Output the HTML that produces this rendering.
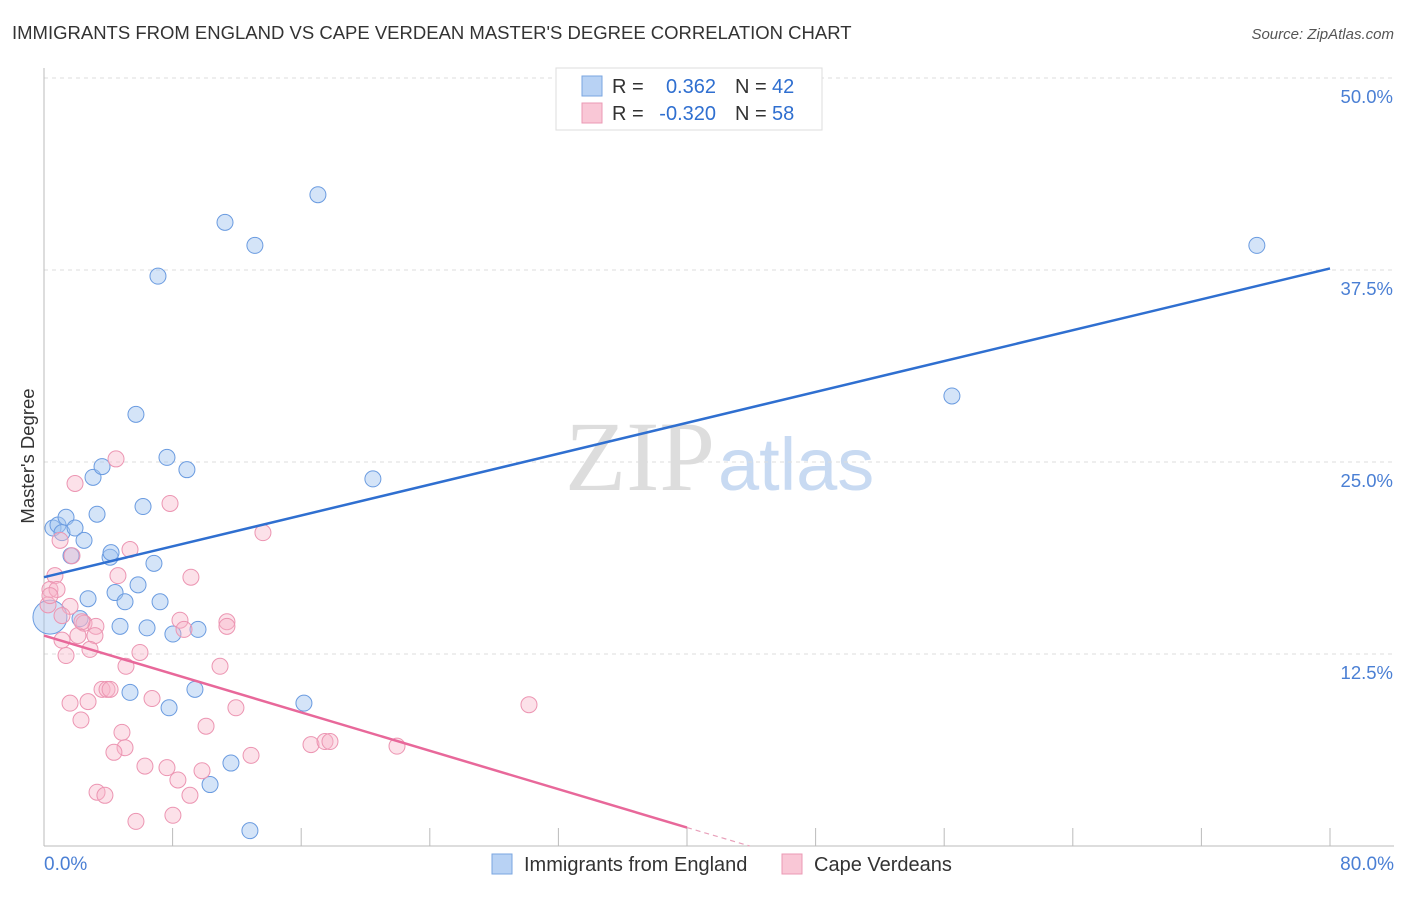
<!DOCTYPE html>
<html><head><meta charset="utf-8"><style>
body{margin:0;background:#fff;font-family:"Liberation Sans",sans-serif}
</style></head><body>
<svg width="1406" height="892" xmlns="http://www.w3.org/2000/svg">
<text x="12" y="39" font-size="18.5" fill="#333">IMMIGRANTS FROM ENGLAND VS CAPE VERDEAN MASTER'S DEGREE CORRELATION CHART</text>
<text x="1394" y="39" font-size="15" fill="#555" font-style="italic" text-anchor="end">Source: ZipAtlas.com</text>
<text x="715" y="490" font-size="100" fill="#ddd" text-anchor="end" font-family="Liberation Serif">ZIP</text>
<text x="718" y="490" font-size="74" fill="#c8daf2">atlas</text>
<g id="grid"></g>
<g id="axes"></g>
<g id="pts"></g>
<g id="lines"></g>
<text transform="translate(34,456) rotate(-90)" font-size="18.5" fill="#333" text-anchor="middle">Master's Degree</text>
<text x="44" y="870" font-size="19" fill="#4a7fd4">0.0%</text>
<text x="1394" y="870" font-size="19" fill="#4a7fd4" text-anchor="end">80.0%</text>
<g>
<rect x="556" y="68" width="266" height="62" fill="#fff" stroke="#ddd"/>
<rect x="582" y="76" width="20" height="20" fill="#b8d2f4" stroke="#7aa6e0"/>
<rect x="582" y="103" width="20" height="20" fill="#f9c7d6" stroke="#eb9ab4"/>
<text x="612" y="93" font-size="20" fill="#333">R =</text>
<text x="716" y="93" font-size="20" fill="#2f6fd0" text-anchor="end">0.362</text>
<text x="735" y="93" font-size="20" fill="#333">N =</text>
<text x="772" y="93" font-size="20" fill="#2f6fd0">42</text>
<text x="612" y="120" font-size="20" fill="#333">R =</text>
<text x="716" y="120" font-size="20" fill="#2f6fd0" text-anchor="end">-0.320</text>
<text x="735" y="120" font-size="20" fill="#333">N =</text>
<text x="772" y="120" font-size="20" fill="#2f6fd0">58</text>
</g>
<g>
<rect x="492" y="854" width="20" height="20" fill="#b8d2f4" stroke="#7aa6e0"/>
<text x="524" y="871" font-size="20" fill="#333">Immigrants from England</text>
<rect x="782" y="854" width="20" height="20" fill="#f9c7d6" stroke="#eb9ab4"/>
<text x="814" y="871" font-size="20" fill="#333">Cape Verdeans</text>
</g>
</svg>
<script>
const yTicks=[12.5,25,37.5,50];
const yTickLabels=["12.5%","25.0%","37.5%","50.0%"];
const xTicks=[0,8,16,24,32,40,48,56,64,72,80];
const blueX=[0.56,0.87,1.37,1.12,1.93,1.68,2.49,3.30,3.05,3.61,4.11,4.17,2.74,2.24,4.42,5.04,5.85,6.84,6.16,5.72,7.09,7.65,8.89,11.26,13.12,17.04,20.46,4.73,6.41,7.22,8.02,9.58,9.39,7.78,5.35,16.17,11.63,10.33,12.81,56.48,75.45,0.37];
const blueY=[20.7,20.9,21.4,20.4,20.7,18.9,19.9,21.6,24.0,24.7,18.8,19.1,16.1,14.8,16.5,15.9,17.0,18.4,22.1,28.1,37.1,25.3,24.5,40.6,39.1,42.4,23.9,14.3,14.2,15.9,13.8,14.1,10.2,9.0,10.0,9.3,5.4,4.0,1.0,29.3,39.1,14.9];
const pinkX=[1.93,4.48,7.84,13.62,1.0,1.74,5.35,0.68,4.6,9.14,0.37,0.81,1.62,0.25,2.49,3.23,3.17,2.11,2.36,1.12,1.37,2.86,8.46,8.71,11.38,11.38,5.97,5.1,10.95,6.72,11.94,1.62,2.74,2.3,3.61,3.92,4.11,10.08,4.85,5.04,4.35,7.65,6.28,8.33,9.83,12.88,16.61,17.48,17.79,21.96,30.17,9.08,3.30,3.79,5.72,8.02,0.37,1.12];
const pinkY=[23.6,25.2,22.3,20.4,19.9,18.9,19.3,17.6,17.6,17.5,16.7,16.7,15.6,15.7,14.5,14.3,13.7,13.7,14.6,13.4,12.4,12.8,14.7,14.1,14.6,14.3,12.6,11.7,11.7,9.6,9.0,9.3,9.4,8.2,10.2,10.2,10.2,7.8,7.4,6.4,6.1,5.1,5.2,4.3,4.9,5.9,6.6,6.8,6.8,6.5,9.2,3.3,3.5,3.3,1.6,2.0,16.3,15.0];
const blueTrend=[[0,17.5],[80,37.6]];
const pinkTrend=[[0,13.7],[40,1.2]];
const pinkDash=[[40,1.2],[43.9,0]];
const X=v=>44+v/80*1286, Y=v=>846-v/50*768;
const NS="http://www.w3.org/2000/svg";
function mk(tag,attrs,parent){const e=document.createElementNS(NS,tag);for(const k in attrs)e.setAttribute(k,attrs[k]);document.getElementById(parent).appendChild(e);return e;}
yTicks.forEach((t,i)=>{
 const l=mk('line',{x1:44,x2:1394,y1:Y(t),y2:Y(t),stroke:'#ddd','stroke-dasharray':'4,4'},'grid');
 
 
 const tx=mk('text',{x:1393,y:Y(t)+25,'font-size':18.5,fill:'#4a7fd4','text-anchor':'end'},'grid');
 tx.textContent=yTickLabels[i];
 
 
});
const ax=mk('line',{x1:44,x2:44,y1:68,y2:846,stroke:'#bbb'},'axes');


const bx=mk('line',{x1:44,x2:1394,y1:846,y2:846,stroke:'#bbb'},'axes');


xTicks.forEach(t=>{
 const l=mk('line',{x1:X(t),x2:X(t),y1:828,y2:846,stroke:'#bbb'},'axes');
 
 
});
blueX.forEach((v,i)=>{
 const r=(i===blueX.length-1)?17:8;
 const c=mk('circle',{cx:X(v),cy:Y(blueY[i]),r:r,fill:'rgba(160,196,240,0.45)',stroke:'#6a9be0','stroke-width':1},'pts');
 
 
});
pinkX.forEach((v,i)=>{
 const c=mk('circle',{cx:X(v),cy:Y(pinkY[i]),r:8,fill:'rgba(248,180,200,0.4)',stroke:'#ec95b2','stroke-width':1},'pts');
 
 
});
const bl=mk('line',{x1:X(blueTrend[0][0]),y1:Y(blueTrend[0][1]),x2:X(blueTrend[1][0]),y2:Y(blueTrend[1][1]),stroke:'#2f6fd0','stroke-width':2.5},'lines');


const pl=mk('line',{x1:X(pinkTrend[0][0]),y1:Y(pinkTrend[0][1]),x2:X(pinkTrend[1][0]),y2:Y(pinkTrend[1][1]),stroke:'#e8689a','stroke-width':2.5},'lines');


const pd=mk('line',{x1:X(pinkDash[0][0]),y1:Y(pinkDash[0][1]),x2:X(pinkDash[1][0]),y2:Y(pinkDash[1][1]),stroke:'#e8a0ba','stroke-width':1.2,'stroke-dasharray':'5,4'},'lines');


</script>
</body></html>
